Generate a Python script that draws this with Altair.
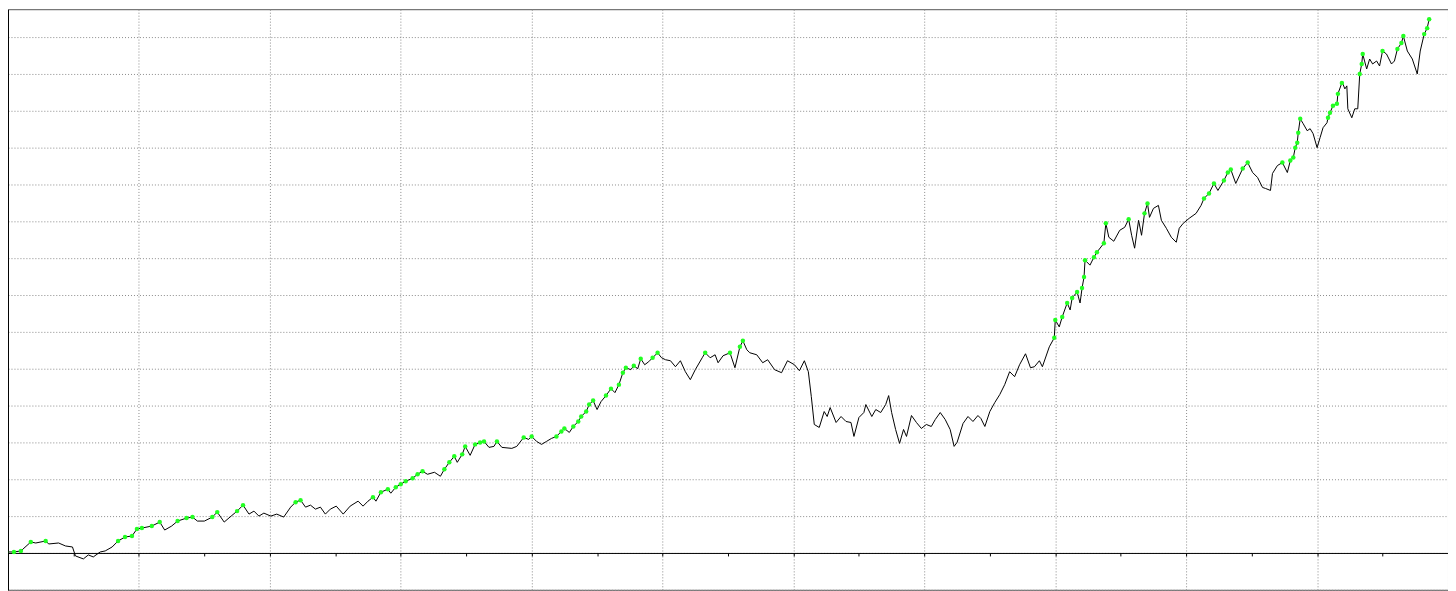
import altair as alt
import pandas as pd

trade = [0, 8, 15, 25, 30, 40, 43, 53, 60, 67, 70, 78, 83, 88, 95, 100, 107, 113, 120, 127,
         132, 137, 147, 155, 160, 167, 173, 182, 188, 193, 200, 208, 213, 220, 227, 233, 239, 245, 250, 255,
         260, 267, 273, 280, 287, 292, 297, 302, 307, 312, 317, 322, 327, 333, 340, 347, 355, 360, 365, 370,
         373, 378, 385, 388, 393, 398, 403, 410, 415, 420, 425, 432, 438, 442, 447, 452, 455, 460, 463, 468,
         473, 478, 482, 487, 492, 495, 500, 510, 515, 522, 527, 530, 535, 540, 545, 550, 555, 560, 563, 568,
         572, 577, 580, 585, 588, 592, 596, 600, 605, 610, 614, 618, 622, 625, 630, 633, 637, 640, 644, 648,
         652, 657, 661, 665, 670, 675, 680, 685, 690, 695, 702, 705, 710, 715, 718, 723, 730, 735, 740, 743,
         747, 750, 757, 763, 768, 775, 782, 788, 795, 800, 805, 809, 812, 815, 820, 825, 828, 831, 837, 842,
         847, 852, 855, 860, 865, 867, 873, 877, 882, 887, 890, 893, 897, 901, 905, 908, 913, 918, 923, 928,
         933, 937, 942, 947, 952, 956, 959, 965, 970, 975, 980, 983, 987, 992, 997, 1002, 1007, 1012, 1017, 1022,
         1028, 1033, 1037, 1042, 1045, 1052, 1057, 1058, 1062, 1065, 1070, 1073, 1075, 1080, 1083, 1085, 1087, 1088, 1093, 1097,
         1100, 1107, 1109, 1112, 1117, 1123, 1128, 1132, 1135, 1138, 1142, 1145, 1148, 1151, 1153, 1157, 1162, 1165, 1170, 1175,
         1180, 1183, 1187, 1193, 1200, 1205, 1208, 1213, 1218, 1222, 1228, 1232, 1235, 1240, 1247, 1252, 1257, 1262, 1267, 1270,
         1275, 1277, 1282, 1287, 1292, 1295, 1298, 1300, 1302, 1303, 1305, 1308, 1312, 1315, 1318, 1322, 1325, 1328, 1332, 1333,
         1335, 1338, 1342, 1343, 1347, 1348, 1350, 1352, 1353, 1357, 1360, 1363, 1365, 1367, 1368, 1372, 1375, 1378, 1382, 1385,
         1388, 1392, 1397, 1400, 1403, 1407, 1409, 1413, 1418, 1423, 1426, 1430, 1433, 1435]

equity = [1, 1, 2, 11, 10, 12, 9, 10, 7, 6, -3, -6, -2, -4, 1, 2, 6, 12, 16, 17,
          24, 25, 27, 31, 23, 27, 32, 35, 36, 32, 32, 36, 41, 31, 37, 42, 48, 39, 42, 37,
          40, 37, 39, 36, 46, 51, 53, 46, 48, 44, 46, 39, 44, 47, 39, 47, 52, 47, 52, 56,
          52, 61, 64, 60, 66, 69, 72, 75, 79, 82, 79, 81, 77, 84, 91, 97, 91, 99, 107, 98,
          109, 111, 112, 106, 107, 112, 106, 105, 107, 116, 114, 117, 112, 109, 112, 115, 117, 122, 125, 121,
          127, 132, 137, 142, 149, 153, 144, 152, 158, 165, 161, 169, 181, 186, 184, 188, 185, 195, 189, 192,
          196, 201, 196, 194, 193, 187, 193, 182, 174, 184, 196, 201, 196, 199, 191, 198, 201, 186, 207, 213,
          204, 201, 199, 191, 194, 184, 181, 193, 189, 183, 193, 182, 157, 129, 126, 142, 137, 146, 131, 137,
          132, 131, 117, 136, 141, 149, 137, 144, 141, 149, 158, 141, 124, 110, 124, 117, 138, 131, 125, 129,
          127, 134, 141, 134, 124, 107, 111, 130, 137, 132, 138, 135, 127, 142, 151, 159, 169, 182, 177, 189,
          200, 186, 187, 193, 187, 207, 216, 234, 227, 237, 251, 244, 256, 262, 251, 266, 277, 294, 289, 297,
          302, 311, 331, 317, 313, 324, 327, 335, 319, 306, 334, 319, 341, 351, 337, 346, 349, 334, 326, 317,
          312, 326, 331, 336, 341, 349, 356, 361, 371, 364, 374, 382, 385, 371, 386, 392, 382, 377, 367, 366,
          364, 381, 389, 392, 382, 394, 397, 407, 412, 422, 436, 431, 424, 426, 421, 407, 417, 427, 432, 437,
          442, 449, 451, 461, 472, 471, 466, 469, 446, 437, 446, 446, 481, 491, 501, 486, 496, 491, 494, 489,
          504, 501, 491, 494, 506, 512, 519, 504, 496, 481, 504, 521, 527, 536]

df = pd.DataFrame({"trade": trade, "equity": equity})

W, H = 1446, 583
Y_LO, Y_HI = -37, 546
X_LO, X_HI = 2, 1454

y_ticks = [18.5 * k for k in range(-2, 30)]
x_ticks = [2 + 66 * k for k in range(0, 23)]

zero_offset = -(H * (0 - Y_LO) / (Y_HI - Y_LO))

x_enc = alt.X(
    "trade:Q",
    scale=alt.Scale(domain=[X_LO, X_HI], nice=False, zero=False),
    axis=alt.Axis(
        values=x_ticks, tickCount=500, labels=False, title=None, grid=True,
        gridColor="#8a8a8a", gridDash=[1, 2], gridWidth=1,
        gridOpacity={"condition": {"test": "(datum.value - 2) % 132 === 0", "value": 1}, "value": 0},
        domainColor="#000000", domainWidth=1, tickColor="#000000", tickSize=3,
        offset=zero_offset,
    ),
)
y_enc = alt.Y(
    "equity:Q",
    scale=alt.Scale(domain=[Y_LO, Y_HI], nice=False, zero=False),
    axis=alt.Axis(
        values=y_ticks, tickCount=500, labels=False, title=None, grid=True,
        gridColor="#8a8a8a", gridDash=[1, 2], gridWidth=1,
        gridOpacity={"condition": {"test": "abs(datum.value / 37 - round(datum.value / 37)) < 0.001", "value": 1}, "value": 0},
        domainColor="#000000", domainWidth=1, tickColor="#000000", tickSize=3,
    ),
)

base = alt.Chart(df)
line = base.mark_line(color="#000000", strokeWidth=1).encode(x=x_enc, y=y_enc)
highs = (
    base.transform_window(runmax="max(equity)", frame=[None, 0], sort=[alt.SortField("trade")])
    .transform_filter("datum.equity >= datum.runmax")
    .mark_circle(color="#22ff22", size=20, opacity=1)
    .encode(x=alt.X("trade:Q"), y=alt.Y("equity:Q"))
)

chart = (
    alt.layer(line, highs)
    .properties(width=W, height=H, background="#ffffff", padding=0,
                autosize=alt.AutoSizeParams(type="none"))
    .configure_view(stroke="#555555", strokeWidth=1)
)

chart.save("out.html", embed_options={"renderer": "svg", "actions": False})
